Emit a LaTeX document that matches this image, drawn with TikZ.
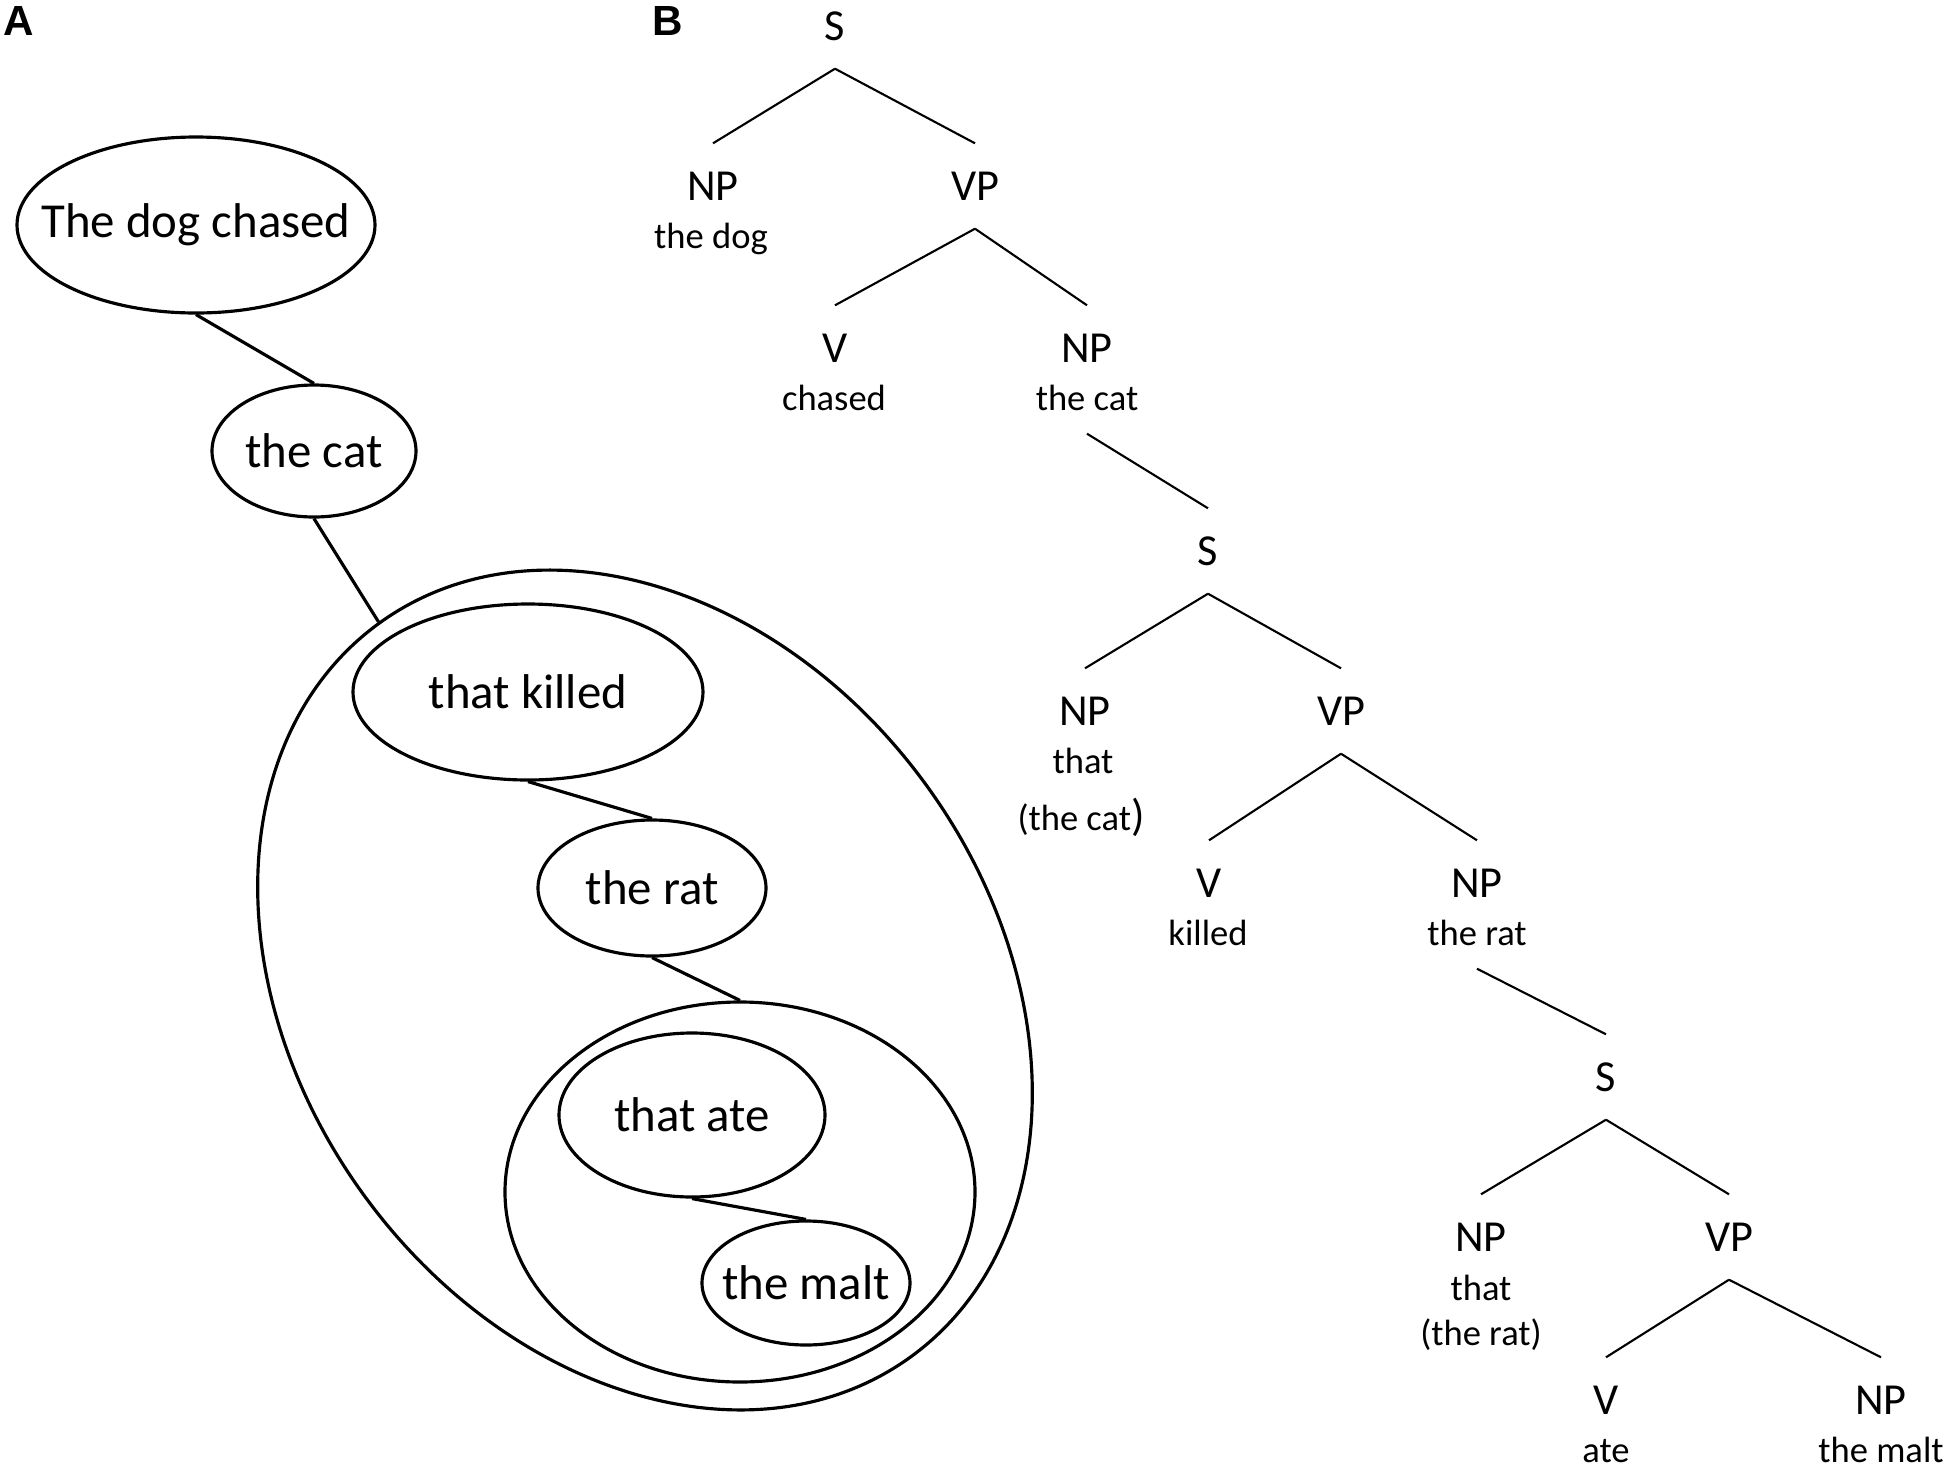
\documentclass[tikz,border=0pt]{standalone}
\usepackage{fontspec}
\setmainfont{Carlito}
\newfontfamily\panelfont{Liberation Sans}
\usetikzlibrary{shapes.geometric}

\begin{document}
\begin{tikzpicture}[
    bubble/.style={draw, ellipse, line width=0.9pt, inner xsep=-0.3cm, inner ysep=0pt, font=\fontsize{13.9}{16}\selectfont},
    group/.style={draw, ellipse, line width=0.9pt, inner sep=0pt},
    link/.style={line width=0.9pt},
    cat/.style={anchor=base, inner xsep=0pt, inner ysep=0.28cm, text height=0.28cm, text depth=0pt, font=\fontsize{12.6}{14}\selectfont},
    word/.style={anchor=base, inner xsep=0pt, inner ysep=0.23cm, text depth=0pt, font=\fontsize{10.4}{12}\selectfont},
    branch/.style={line width=0.6pt},
    panel/.style={font=\panelfont\fontsize{12}{14}\selectfont\bfseries}
]

    \useasboundingbox (0,0) rectangle (19.5,-14.83);

    \node[panel] (labA) at (0.19,-0.21) {A};
    \node[panel] (labB) at (6.68,-0.21) {B};

    % A: nested clauses
    \node[bubble, minimum width=3.58cm, minimum height=1.76cm] (DoCh) at (1.96,-2.25) {The dog chased};
    \node[bubble, minimum width=2.04cm, minimum height=1.32cm] (Ca) at (3.14,-4.51) {the cat};

    \node[group, minimum width=9.06cm, minimum height=6.96cm, rotate=125.9] (GrOne) at (6.45,-9.90) {};
    \node[bubble, minimum width=3.50cm, minimum height=1.76cm] (ThKi) at (5.28,-6.92) {that killed};
    \node[bubble, minimum width=2.28cm, minimum height=1.36cm] (Ra) at (6.52,-8.88) {the rat};

    \node[group, minimum width=4.70cm, minimum height=3.80cm] (GrTwo) at (7.40,-11.92) {};
    \node[bubble, minimum width=2.66cm, minimum height=1.64cm] (ThAt) at (6.92,-11.15) {that ate};
    \node[bubble, minimum width=2.08cm, minimum height=1.24cm] (Ma) at (8.06,-12.83) {the malt};

    \draw[link] (DoCh.south) -- (Ca.north);
    \draw[link] (Ca.south) -- (GrOne.east);
    \draw[link] (ThKi.south) -- (Ra.north);
    \draw[link] (Ra.south) -- (GrTwo.north);
    \draw[link] (ThAt.south) -- (Ma.north);

    % B: phrase structure
    \node[cat] (S1) at (8.35,-0.40) {S};

    \node[cat] (NP1) at (7.13,-2.00) {NP};
    \node[cat] (VP1) at (9.75,-2.00) {VP};
    \node[word] (thDog) at (7.11,-2.48) {the dog};

    \node[cat] (V1) at (8.35,-3.62) {V};
    \node[cat] (NP2) at (10.87,-3.62) {NP};
    \node[word] (chased) at (8.34,-4.10) {chased};
    \node[word] (thCat) at (10.87,-4.10) {the cat};

    \node[cat] (S2) at (12.08,-5.65) {S};

    \node[cat] (NP3) at (10.85,-7.25) {NP};
    \node[cat] (VP2) at (13.41,-7.25) {VP};
    \node[word] (thatCa) at (10.83,-7.73) {that};
    \node[word] (prCa) at (10.81,-8.30) {(the cat{\fontsize{12.6}{14}\selectfont)}};

    \node[cat] (V2) at (12.09,-8.97) {V};
    \node[cat] (NP4) at (14.77,-8.97) {NP};
    \node[word] (killed) at (12.08,-9.45) {killed};
    \node[word] (thRat) at (14.77,-9.45) {the rat};

    \node[cat] (S3) at (16.06,-10.91) {S};

    \node[cat] (NP5) at (14.81,-12.51) {NP};
    \node[cat] (VP3) at (17.29,-12.51) {VP};
    \node[word] (thatRa) at (14.81,-13.00) {that};
    \node[word] (prRa) at (14.81,-13.45) {(the rat)};

    \node[cat] (V3) at (16.06,-14.14) {V};
    \node[cat] (NP6) at (18.81,-14.14) {NP};
    \node[word] (ate) at (16.06,-14.62) {ate};
    \node[word] (thMalt) at (18.81,-14.62) {the malt};

    \draw[branch] (S1.south) -- (NP1.north);
    \draw[branch] (S1.south) -- (VP1.north);
    \draw[branch] (VP1.south) -- (V1.north);
    \draw[branch] (VP1.south) -- (NP2.north);
    \draw[branch] (thCat.south) -- (S2.north);

    \draw[branch] (S2.south) -- (NP3.north);
    \draw[branch] (S2.south) -- (VP2.north);
    \draw[branch] (VP2.south) -- (V2.north);
    \draw[branch] (VP2.south) -- (NP4.north);
    \draw[branch] (thRat.south) -- (S3.north);

    \draw[branch] (S3.south) -- (NP5.north);
    \draw[branch] (S3.south) -- (VP3.north);
    \draw[branch] (VP3.south) -- (V3.north);
    \draw[branch] (VP3.south) -- (NP6.north);

\end{tikzpicture}
\end{document}
